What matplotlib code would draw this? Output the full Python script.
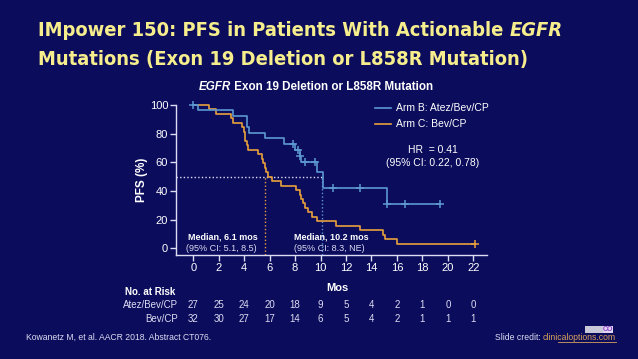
import matplotlib
matplotlib.use('Agg')
import matplotlib.pyplot as plt
import matplotlib.transforms as mtransforms
from matplotlib import font_manager

# --- data ---
arm_b_times = [0, 0.4, 3.1, 4.2, 4.25, 4.35, 5.6, 7.1, 8.0, 8.35, 8.5, 9.7, 10.2, 15.2, 19.4]
arm_b_surv = [100, 96.2, 92.3, 88.5, 84.6, 80.8, 76.9, 73.1, 68.5, 64.2, 60.2, 53.5, 42.1, 30.8, 30.8]
arm_b_cens_t = [0, 7.85, 8.2, 8.4, 8.75, 9.55, 11.0, 13.1, 15.25, 16.6, 19.4]
arm_b_cens_s = [100, 73.1, 68.5, 64.2, 60.2, 60.2, 42.1, 42.1, 30.8, 30.8, 30.8]

arm_c_times = [0, 1.2, 1.8, 3.0, 3.1, 3.8, 3.95, 4.05, 4.1, 4.2, 4.3, 5.1, 5.4, 5.5, 5.6,
               5.7, 5.85, 6.15, 6.9, 8.1, 8.35, 8.5, 8.6, 8.75, 9.0, 9.3, 9.7, 11.2,
               13.1, 14.9, 15.1, 16.0, 22.1]
arm_c_surv = [100, 96.9, 93.8, 90.6, 87.5, 84.4, 81.3, 78.1, 75.0, 71.9, 68.8, 65.6, 62.5,
              59.4, 56.3, 53.1, 50.0, 46.9, 43.8, 40.6, 37.5, 34.4, 31.3, 28.1, 25.0, 21.9,
              18.8, 15.6, 12.5, 9.4, 6.3, 3.1, 3.1]
arm_c_cens_t = [22.1]
arm_c_cens_s = [3.1]

median_b = 10.15
median_c = 5.6

xticks = [0, 2, 4, 6, 8, 10, 12, 14, 16, 18, 20, 22]
risk_b = [27, 25, 24, 20, 18, 9, 5, 4, 2, 1, 0, 0]
risk_c = [32, 30, 27, 17, 14, 6, 5, 4, 2, 1, 1, 1]

BG = '#0b0c5c'
BLUE = '#5d98d2'
ORANGE = '#e8a03c'
LIGHT = '#dcdcf2'
YELLOW = '#f6ee8c'

plt.rcParams['font.family'] = ['Liberation Sans', 'DejaVu Sans']

# a condensed bold face for the title if one is installed
names = set(f.name for f in font_manager.fontManager.ttflist)
condensed = [f.name for f in font_manager.fontManager.ttflist
             if f.stretch in ('condensed', 'semi-condensed', 'extra-condensed')]
if 'Liberation Sans Narrow' in names:
    tfam, tstretch = 'Liberation Sans Narrow', 'normal'
elif 'DejaVu Sans' in condensed:
    tfam, tstretch = 'DejaVu Sans', 'condensed'
else:
    tfam, tstretch = 'Liberation Sans', 'normal'

W, H = 638, 359
fig = plt.figure(figsize=(6.38, 3.59), dpi=100, facecolor=BG)


def fx(px):
    return px / W


def fy(py):
    return 1 - py / H


ax = fig.add_axes([fx(176.5), fy(255), fx(487.3) - fx(176.5), fy(105) - fy(255)])
ax.set_facecolor(BG)
ax.set_xlim(-1.32, 23.1)
ax.set_ylim(-4.7, 100)

ax.step(arm_b_times, arm_b_surv, where='post', color=BLUE, lw=1.2, clip_on=False, zorder=4)
ax.step(arm_c_times, arm_c_surv, where='post', color=ORANGE, lw=1.2, clip_on=False, zorder=3)
ax.plot(arm_b_cens_t, arm_b_cens_s, '+', color=BLUE, ms=6, mew=1.1, clip_on=False, zorder=5)
ax.plot(arm_c_cens_t, arm_c_cens_s, '+', color=ORANGE, ms=6, mew=1.1, clip_on=False, zorder=5)

dots = (0, (1, 1.6))
ax.plot([-1.32, median_b], [50, 50], color=LIGHT, lw=1, ls=dots, zorder=2)
ax.plot([median_c, median_c], [-4.7, 50], color=ORANGE, lw=1, ls=dots, zorder=2)
ax.plot([median_b, median_b], [-4.7, 50], color=BLUE, lw=1, ls=dots, zorder=2)

for side in ['top', 'right']:
    ax.spines[side].set_visible(False)
for side in ['left', 'bottom']:
    ax.spines[side].set_color(LIGHT)
    ax.spines[side].set_linewidth(1)
ax.set_xticks(xticks)
ax.set_yticks([0, 20, 40, 60, 80, 100])
ax.tick_params(colors=LIGHT, labelcolor='white', labelsize=8, length=4, width=1, pad=2)

ax.set_ylabel('PFS (%)', color='white', fontsize=8.5, fontweight='bold', labelpad=1.5)

# legend
for py, col, lab in [(108, BLUE, 'Arm B: Atez/Bev/CP'), (124, ORANGE, 'Arm C: Bev/CP')]:
    fig.add_artist(plt.Line2D([fx(375), fx(391)], [fy(py), fy(py)], color=col, lw=1.2))
    fig.text(fx(396), fy(py), lab, color='white', fontsize=7.5, va='center', ha='left')

fig.text(fx(433), fy(150), 'HR  = 0.41', color='white', fontsize=7.5, ha='center', va='center')
fig.text(fx(433), fy(163), '(95% CI: 0.22, 0.78)', color='white', fontsize=7.5, ha='center', va='center')

# median labels
fig.text(fx(188), fy(237), 'Median, 6.1 mos', color='white', fontsize=6.5, fontweight='bold', va='center')
fig.text(fx(186), fy(248.5), '(95% CI: 5.1, 8.5)', color=LIGHT, fontsize=6.5, va='center')
fig.text(fx(294), fy(237), 'Median, 10.2 mos', color='white', fontsize=6.5, fontweight='bold', va='center')
fig.text(fx(294), fy(248.5), '(95% CI: 8.3, NE)', color=LIGHT, fontsize=6.5, va='center')

# subtitle
t = fig.text(fx(199), fy(87.5), 'EGFR', color='white', fontsize=8.4, fontweight='bold',
             fontstyle='italic', va='center', ha='left')
ax.annotate(' Exon 19 Deletion or L858R Mutation', xy=(1, 0), xycoords=t, va='bottom', ha='left',
            color='white', fontsize=8.4, fontweight='bold', annotation_clip=False)

# title: size chosen so the first line spans the same width as on the slide
r = fig.canvas.get_renderer()
probe = fig.text(0, 0, 'IMpower 150: PFS in Patients With Actionable EGFR', fontsize=17.5,
                 fontweight='bold', family=tfam, fontstretch=tstretch)
tsize = min(17.5 * 527 / probe.get_window_extent(r).width, 17.5)
probe.remove()

t1 = fig.text(fx(38), fy(36), 'IMpower 150: PFS in Patients With Actionable ', color=YELLOW,
              fontsize=tsize, fontweight='bold', family=tfam, fontstretch=tstretch, va='baseline')
ax.annotate('EGFR', xy=(1, 0), xycoords=t1, va='bottom', ha='left', color=YELLOW,
            fontsize=tsize, fontweight='bold', fontstyle='italic', family=tfam,
            fontstretch=tstretch, annotation_clip=False)
fig.text(fx(38), fy(65), 'Mutations (Exon 19 Deletion or L858R Mutation)', color=YELLOW,
         fontsize=tsize, fontweight='bold', family=tfam, fontstretch=tstretch, va='baseline')

# x label and risk table
blend = mtransforms.blended_transform_factory(ax.transData, fig.transFigure)
ax.text(11.3, fy(288), 'Mos', transform=blend, color='white', fontsize=8, fontweight='bold',
        ha='center', va='center')
fig.text(fx(175.5), fy(292), 'No. at Risk', color='white', fontsize=7, fontweight='bold',
         ha='right', va='center')
fig.text(fx(177.5), fy(305), 'Atez/Bev/CP', color=LIGHT, fontsize=7, ha='right', va='center')
fig.text(fx(177.5), fy(319), 'Bev/CP', color=LIGHT, fontsize=7, ha='right', va='center')
for x, b, c in zip(xticks, risk_b, risk_c):
    ax.text(x, fy(305), str(b), transform=blend, color=LIGHT, fontsize=7, ha='center', va='center')
    ax.text(x, fy(319), str(c), transform=blend, color=LIGHT, fontsize=7, ha='center', va='center')

# footer
fig.text(fx(26.5), fy(337.5), 'Kowanetz M, et al. AACR 2018. Abstract CT076.', color=LIGHT,
         fontsize=6.2, va='center')
cred = fig.text(fx(616), fy(337.5), 'clinicaloptions.com', color='#d9a25a', fontsize=6.2,
                va='center', ha='right')
ax.annotate('Slide credit: ', xy=(0, 0), xycoords=cred, va='bottom', ha='right', color=LIGHT,
            fontsize=6.2, annotation_clip=False)
fig.add_artist(plt.Line2D([fx(558), fx(616)], [fy(342), fy(342)], color='#d9a25a', lw=0.6))
fig.add_artist(plt.Rectangle((fx(585), fy(333)), fx(28), 7 / H, color='#c8c8d8', lw=0))
fig.add_artist(plt.Rectangle((fx(603), fy(333)), fx(10), 7 / H, color='#e0d8f0', lw=0))
fig.text(fx(608), fy(329.5), 'CO', color='#8a3cc8', fontsize=5, fontweight='bold', ha='center', va='center')

fig.savefig('out.png', dpi=100, facecolor=BG)
